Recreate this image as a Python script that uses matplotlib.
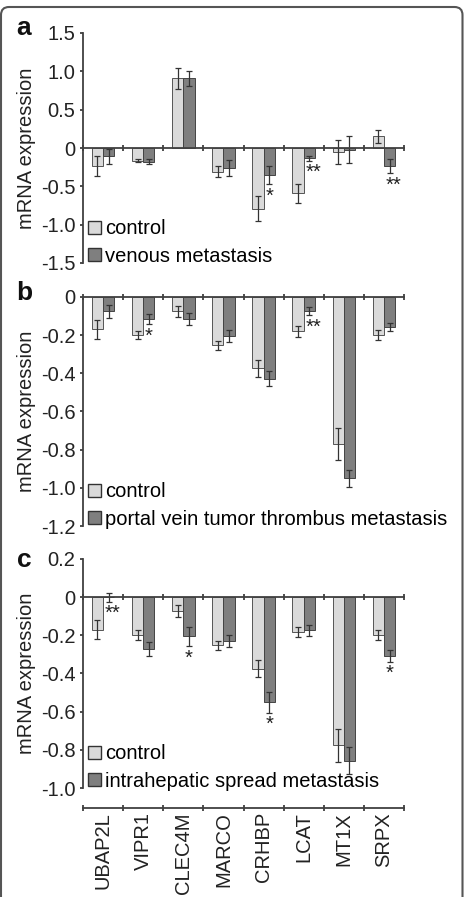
import matplotlib
matplotlib.use('Agg')
import matplotlib.pyplot as plt
import matplotlib.patches as mpatches
from matplotlib.transforms import IdentityTransform
import numpy as np

plt.rcParams['font.family'] = ['Liberation Sans', 'DejaVu Sans']

# ---------------- data ----------------
genes = ['UBAP2L', 'VIPR1', 'CLEC4M', 'MARCO', 'CRHBP', 'LCAT', 'MT1X', 'SRPX']

# panel a: control vs venous metastasis
ctrl_a = [-0.24, -0.165, 0.91, -0.31, -0.79, -0.59, -0.05, 0.155]
ctrl_a_err = [0.13, 0.02, 0.135, 0.07, 0.16, 0.125, 0.16, 0.085]
ven_a = [-0.11, -0.18, 0.91, -0.26, -0.35, -0.135, -0.02, -0.235]
ven_a_err = [0.10, 0.035, 0.10, 0.10, 0.12, 0.03, 0.18, 0.09]
sig_a = ['', '', '', '', '*', '**', '', '**']

# panel b: control vs portal vein tumor thrombus metastasis
ctrl_b = [-0.17, -0.20, -0.075, -0.254, -0.374, -0.18, -0.77, -0.20]
ctrl_b_err = [0.048, 0.022, 0.028, 0.023, 0.044, 0.03, 0.083, 0.026]
pvtt_b = [-0.075, -0.115, -0.115, -0.205, -0.428, -0.075, -0.95, -0.157]
pvtt_b_err = [0.035, 0.027, 0.03, 0.031, 0.04, 0.02, 0.046, 0.023]
sig_b = ['', '*', '', '', '', '**', '', '']

# panel c: control vs intrahepatic spread metastasis
ctrl_c = [-0.17, -0.20, -0.073, -0.252, -0.374, -0.183, -0.777, -0.197]
ctrl_c_err = [0.048, 0.026, 0.03, 0.023, 0.045, 0.028, 0.085, 0.026]
ihs_c = [0.0, -0.27, -0.205, -0.23, -0.551, -0.174, -0.856, -0.308]
ihs_c_err = [0.024, 0.037, 0.05, 0.032, 0.054, 0.029, 0.07, 0.03]
sig_c = ['**', '', '*', '', '*', '', '', '*']

ticks_a = [-1.5, -1.0, -0.5, 0, 0.5, 1.0, 1.5]
ticklabels_a = ['-1.5', '-1.0', '-0.5', '0', '0.5', '1.0', '1.5']
ticks_b = [-1.2, -1.0, -0.8, -0.6, -0.4, -0.2, 0]
ticklabels_b = ['-1.2', '-1.0', '-0.8', '-0.6', '-0.4', '-0.2', '0']
ticks_c = [-1.0, -0.8, -0.6, -0.4, -0.2, 0, 0.2]
ticklabels_c = ['-1.0', '-0.8', '-0.6', '-0.4', '-0.2', '0', '0.2']

labels_a = ['control', 'venous metastasis']
labels_b = ['control', 'portal vein tumor thrombus metastasis']
labels_c = ['control', 'intrahepatic spread metastasis']
panel_letters = ['a', 'b', 'c']

# ---------------- style ----------------
W, H = 465, 897
CTRL = '#dadada'
MET = '#7f7f7f'
EDGE = '#555555'
SPINE = '#404040'
FS = 14.5

fig = plt.figure(figsize=(W / 100, H / 100), dpi=100)


def rect(x0, y0, x1, y1):
    return [x0 / W, 1 - y1 / H, (x1 - x0) / W, (y1 - y0) / H]


panels = [
    dict(r=(83, 33, 404, 263), ylim=(-1.5, 1.5), ticks=ticks_a, tl=ticklabels_a,
         c=ctrl_a, ce=ctrl_a_err, m=ven_a, me=ven_a_err, sig=sig_a, labels=labels_a,
         letter_y=28),
    dict(r=(83, 297, 404, 526), ylim=(-1.2, 0), ticks=ticks_b, tl=ticklabels_b,
         c=ctrl_b, ce=ctrl_b_err, m=pvtt_b, me=pvtt_b_err, sig=sig_b, labels=labels_b,
         letter_y=293),
    dict(r=(83, 559, 404, 788), ylim=(-1.0, 0.2), ticks=ticks_c, tl=ticklabels_c,
         c=ctrl_c, ce=ctrl_c_err, m=ihs_c, me=ihs_c_err, sig=sig_c, labels=labels_c,
         letter_y=560),
]

x = np.arange(len(genes))
bw = 0.28
ekw = dict(ecolor='#333333', elinewidth=0.9, capsize=2, capthick=0.9)

for i, p in enumerate(panels):
    ax = fig.add_axes(rect(*p['r']))
    ax.set_xlim(-0.5, len(genes) - 0.5)
    ax.set_ylim(*p['ylim'])
    b1 = ax.bar(x - bw / 2, p['c'], bw, color=CTRL, edgecolor=EDGE, linewidth=0.7,
                yerr=p['ce'], error_kw=ekw, zorder=2)
    b2 = ax.bar(x + bw / 2, p['m'], bw, color=MET, edgecolor='#444444', linewidth=0.7,
                yerr=p['me'], error_kw=ekw, zorder=2)
    for xi, v, e, s in zip(x, p['m'], p['me'], p['sig']):
        if s:
            dx = 4 if len(s) > 1 else 0
            ax.annotate(s, xy=(xi + bw / 2, v - e), xytext=(dx, -12),
                        textcoords='offset pixels', ha='center', va='center',
                        fontsize=FS, color='#222222')
    for side in ['top', 'right']:
        ax.spines[side].set_visible(False)
    ax.spines['bottom'].set_position(('data', 0))
    for side in ['left', 'bottom']:
        ax.spines[side].set_color(SPINE)
        ax.spines[side].set_linewidth(1.3)
    ax.set_xticks(np.arange(len(genes) + 1) - 0.5)
    ax.set_xticklabels([])
    ax.tick_params(axis='x', direction='inout', length=5, width=1.3, color=SPINE)
    ax.set_yticks(p['ticks'])
    ax.set_yticklabels(p['tl'])
    ax.tick_params(axis='y', direction='out', length=2.5, width=1.3, color=SPINE,
                   labelsize=FS, pad=3, labelcolor='#222222')
    ax.set_ylabel('mRNA expression', fontsize=FS, color='#222222')
    ax.yaxis.label.set_va('center')
    ax.yaxis.set_label_coords((27 - 83) / 321, 0.5)
    leg = ax.legend([b1, b2], p['labels'], loc='lower left', bbox_to_anchor=(0.015, -0.012),
                    frameon=False, fontsize=FS, handlelength=0.65, handleheight=0.62,
                    handletextpad=0.2, labelspacing=0.42, borderpad=0, borderaxespad=0)
    for h in leg.legend_handles:
        h.set_edgecolor('#333333')
        h.set_linewidth(1.0)
    fig.text(24 / W, 1 - p['letter_y'] / H, panel_letters[i], fontsize=19,
             fontweight='bold', ha='center', va='center', color='#111111')

# category axis below panel c
axc = fig.add_axes(rect(83, 806, 404, 808))
axc.set_xlim(-0.5, len(genes) - 0.5)
axc.set_ylim(0, 1)
for side in ['top', 'right', 'left']:
    axc.spines[side].set_visible(False)
axc.spines['bottom'].set_color(SPINE)
axc.spines['bottom'].set_linewidth(1.3)
axc.set_yticks([])
axc.set_xticks(np.arange(len(genes) + 1) - 0.5)
axc.set_xticklabels([])
axc.tick_params(axis='x', which='major', direction='inout', length=5, width=1.3, color=SPINE)
axc.set_xticks(x, minor=True)
axc.set_xticklabels(genes, minor=True, rotation=90, fontsize=FS, color='#222222')
axc.tick_params(axis='x', which='minor', length=0, pad=3)
axc.patch.set_visible(False)

# rounded frame
frame = mpatches.FancyBboxPatch((1, -30), 461.5, 920, boxstyle='round,pad=0,rounding_size=8',
                                transform=IdentityTransform(), fill=False,
                                edgecolor='#555555', linewidth=1.5)
fig.patches.append(frame)

fig.savefig('out.png', dpi=100)
